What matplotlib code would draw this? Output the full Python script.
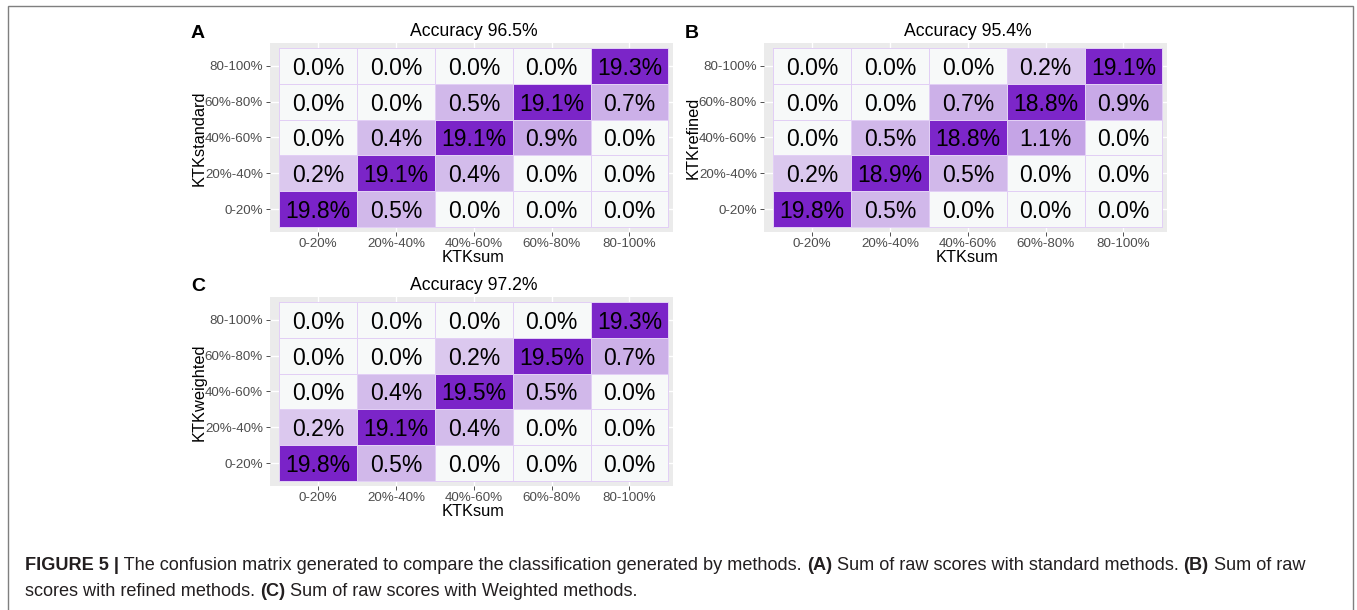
import numpy as np
import matplotlib
matplotlib.use("Agg")
import matplotlib.pyplot as plt
from matplotlib.colors import LinearSegmentedColormap, PowerNorm
from matplotlib.patches import Rectangle

plt.rcParams['font.family'] = ['Liberation Sans', 'DejaVu Sans']

# category labels (bottom -> top on y, left -> right on x)
categories = ["0-20%", "20%-40%", "40%-60%", "60%-80%", "80-100%"]

# confusion matrices in percent, rows listed top (80-100%) to bottom (0-20%)
standard = [
    [0.0, 0.0, 0.0, 0.0, 19.3],
    [0.0, 0.0, 0.5, 19.1, 0.7],
    [0.0, 0.4, 19.1, 0.9, 0.0],
    [0.2, 19.1, 0.4, 0.0, 0.0],
    [19.8, 0.5, 0.0, 0.0, 0.0],
]
refined = [
    [0.0, 0.0, 0.0, 0.2, 19.1],
    [0.0, 0.0, 0.7, 18.8, 0.9],
    [0.0, 0.5, 18.8, 1.1, 0.0],
    [0.2, 18.9, 0.5, 0.0, 0.0],
    [19.8, 0.5, 0.0, 0.0, 0.0],
]
weighted = [
    [0.0, 0.0, 0.0, 0.0, 19.3],
    [0.0, 0.0, 0.2, 19.5, 0.7],
    [0.0, 0.4, 19.5, 0.5, 0.0],
    [0.2, 19.1, 0.4, 0.0, 0.0],
    [19.8, 0.5, 0.0, 0.0, 0.0],
]
accuracies = [96.5, 95.4, 97.2]
ylabels = ["KTKstandard", "KTKrefined", "KTKweighted"]
panel_tags = ["A", "B", "C"]

W, H = 1357, 610
fig = plt.figure(figsize=(W / 100, H / 100), dpi=100)
fig.patch.set_facecolor("white")

cmap = LinearSegmentedColormap.from_list("purp", ["#f7f9f9", "#7a23c8"])
norm = PowerNorm(gamma=0.32, vmin=0, vmax=19.8)


def px_axes(x0, y0, x1, y1):
    return fig.add_axes([x0 / W, 1 - y1 / H, (x1 - x0) / W, (y1 - y0) / H])


def draw_panel(x0, y0, mat, acc, ylab, tag):
    ax = px_axes(x0, y0, x0 + 403, y0 + 189)
    grid = np.array(mat)[::-1]
    ax.set_facecolor("#ebebeb")
    ax.pcolormesh(np.arange(6) - 0.5, np.arange(6) - 0.5, grid, cmap=cmap,
                  norm=norm, edgecolors="#e2cff5", linewidth=0.55, zorder=2)
    for i in range(5):
        for j in range(5):
            ax.text(j, i, f"{grid[i, j]:.1f}%", ha="center",
                    va="center_baseline", fontsize=16.5, color="black",
                    zorder=3)
    ax.set_xlim(-0.62, 4.56)
    ax.set_ylim(-0.64, 4.64)
    ax.set_xticks(range(5))
    ax.set_yticks(range(5))
    ax.set_xticklabels(categories)
    ax.set_yticklabels(categories)
    ax.tick_params(length=3, width=0.6, color="#333333", labelcolor="#4d4d4d",
                   labelsize=9.6, pad=2)
    ax.tick_params(axis="x", pad=1.2)
    ax.grid(color="white", linewidth=1.0, zorder=0)
    ax.set_axisbelow(True)
    for s in ax.spines.values():
        s.set_visible(False)
    cx = x0 + 9 + 389 / 2
    fig.text(cx / W, 1 - (y0 - 12) / H, f"Accuracy {acc}%", ha="center",
             va="center", fontsize=12.7)
    fig.text(cx / W, 1 - (y0 + 214) / H, "KTKsum", ha="center", va="center",
             fontsize=11.8)
    fig.text((x0 - 71) / W, 1 - (y0 + 95) / H, ylab, ha="center", va="center",
             rotation=90, fontsize=11.8)
    fig.text((x0 - 72) / W, 1 - (y0 - 10) / H, tag, ha="center", va="center",
             fontsize=14, fontweight="bold")
    return ax


draw_panel(270, 43, standard, accuracies[0], ylabels[0], panel_tags[0])
draw_panel(764, 43, refined, accuracies[1], ylabels[1], panel_tags[1])
draw_panel(270, 297, weighted, accuracies[2], ylabels[2], panel_tags[2])

# frame around the figure
fig.patches.append(Rectangle((8 / W, -0.05), 1345 / W, 1.05 - 6 / H,
                             transform=fig.transFigure, fill=False,
                             edgecolor="#7f7f7f", linewidth=1.0))

# caption with bold fragments
caption = [
    [("FIGURE 5 |", "bold"),
     (" The confusion matrix generated to compare the classification generated by methods. ", "normal"),
     ("(A)", "bold"), (" Sum of raw scores with standard methods. ", "normal"),
     ("(B)", "bold"), (" Sum of raw", "normal")],
    [("scores with refined methods. ", "normal"), ("(C)", "bold"),
     (" Sum of raw scores with Weighted methods.", "normal")],
]
renderer = fig.canvas.get_renderer()
for k, line in enumerate(caption):
    x = 25
    y = 566 + 25 * k
    for txt, wt in line:
        t = fig.text(x / W, 1 - y / H, txt, ha="left", va="center",
                     fontsize=13.1, fontweight=wt, color="#231f20")
        bb = t.get_window_extent(renderer=renderer)
        x += bb.width

fig.savefig("out.png", dpi=100)
